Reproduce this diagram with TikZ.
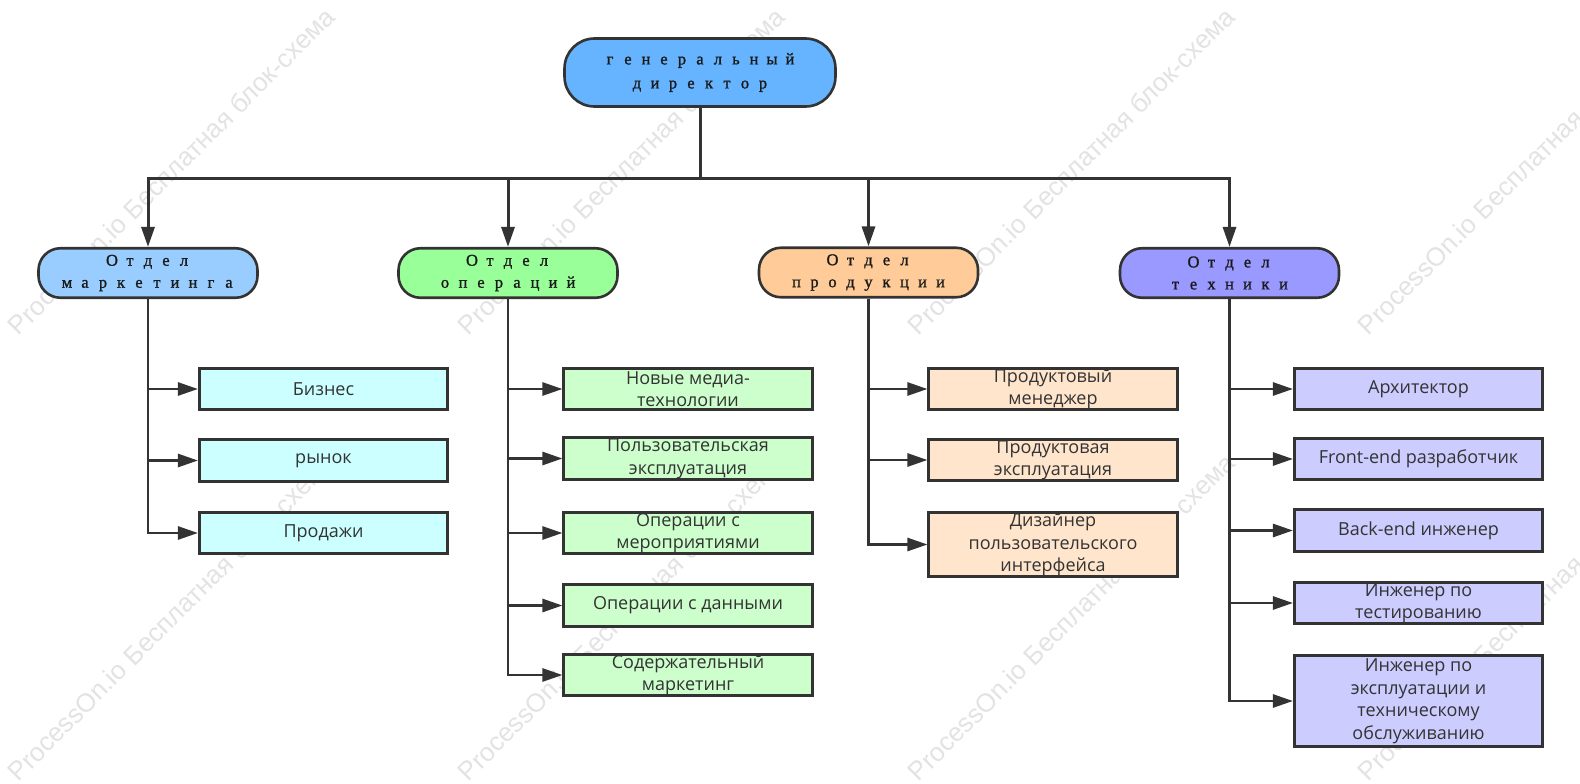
\documentclass[tikz,border=0pt]{standalone}
\usepackage{fontspec}
\setmainfont{Open Sans}
\newfontfamily\wmfont{Liberation Sans}
\newfontfamily\serifcell[FakeBold=1.2]{Liberation Serif}
\usetikzlibrary{arrows.meta}
\definecolor{lc}{HTML}{333333}
\definecolor{tc}{HTML}{333333}
\definecolor{topfill}{HTML}{66B3FF}
\definecolor{mkfill}{HTML}{99CCFF}
\definecolor{opfill}{HTML}{99FF99}
\definecolor{prfill}{HTML}{FFCC99}
\definecolor{tefill}{HTML}{9999FF}
\definecolor{mkc}{HTML}{CCFFFF}
\definecolor{opc}{HTML}{CCFFCC}
\definecolor{prc}{HTML}{FFE5CC}
\definecolor{tec}{HTML}{CCCCFF}
\definecolor{wm}{HTML}{E3E3E3}
\newcommand\cellsp[1]{\cellspaux#1\relax}
\def\cellspaux#1{\ifx#1\relax\else\makebox[18pt]{#1}\expandafter\cellspaux\fi}
\tikzset{
  topbox/.style={draw=lc, line width=2.6pt, rounded corners=30pt, fill=topfill,
    minimum width=271pt, minimum height=68pt, inner sep=0pt, align=center,
    font=\serifcell\fontsize{16.5}{24}\selectfont, text=black!90},
  dept/.style={draw=lc, line width=2.6pt, rounded corners=22pt,
    minimum width=219pt, minimum height=49.5pt, inner sep=0pt, align=center,
    font=\serifcell\fontsize{16.5}{22}\selectfont, text=black!90},
  child/.style={draw=lc, line width=2.6pt, minimum width=248.5pt,
    minimum height=41.5pt, inner sep=0pt, align=center,
    font=\fontsize{18}{22.5}\selectfont, text=tc},
  mainline/.style={draw=lc, line width=3pt},
  arrowline/.style={draw=lc, line width=3pt, -{Triangle[length=20pt,width=13pt]}},
  branch/.style={draw=lc, line width=2.6pt, -{Triangle[length=20pt,width=13pt]}},
  wmtext/.style={text=wm, font=\wmfont\fontsize{26}{26}\selectfont, rotate=45, inner sep=0pt}
}
\begin{document}
\begin{tikzpicture}[x=1pt,y=-1pt]
\useasboundingbox (0,0) rectangle (1580,784);
\fill[white] (0,0) rectangle (1580,784);
% watermark
\begin{scope}
\clip (0,0) rectangle (1580,784);
\foreach \i in {0,1,2,3} {
  \foreach \j in {0,1} {
    \node[wmtext] (wm\i\j) at (171+450*\i, 171+446*\j) {ProcessOn.io Бесплатная блок-схема};
  }
}
\end{scope}
% top
\node[topbox] (top) at (700,72.5) {\cellsp{генеральный}\\\cellsp{директор}};
% departments
\node[dept, fill=mkfill] (mk) at (148,273) {\cellsp{Отдел}\\\cellsp{маркетинга}};
\node[dept, fill=opfill] (op) at (508,273) {\cellsp{Отдел}\\\cellsp{операций}};
\node[dept, fill=prfill] (pr) at (868.5,272.5) {\cellsp{Отдел}\\\cellsp{продукции}};
\node[dept, fill=tefill] (te) at (1229.5,273) {\cellsp{Отдел}\\\cellsp{техники}};
% marketing children
\node[child, fill=mkc] (m1) at (323.5,389) {Бизнес};
\node[child, fill=mkc] (m2) at (323.5,460.5) {рынок};
\node[child, fill=mkc] (m3) at (323.5,533) {Продажи};
% operations children
\node[child, fill=opc] (o1) at (688,389) {Новые медиа-\\технологии};
\node[child, fill=opc] (o2) at (688,458.5) {Пользовательская\\эксплуатация};
\node[child, fill=opc] (o3) at (688,533) {Операции с\\мероприятиями};
\node[child, fill=opc] (o4) at (688,605.5) {Операции с данными};
\node[child, fill=opc] (o5) at (688,675) {Содержательный\\маркетинг};
% product children
\node[child, fill=prc] (p1) at (1053,389) {Продуктовый\\менеджер};
\node[child, fill=prc] (p2) at (1053,460) {Продуктовая\\эксплуатация};
\node[child, fill=prc, minimum height=64.5pt] (p3) at (1053,544.5) {Дизайнер\\пользовательского\\интерфейса};
% tech children
\node[child, fill=tec] (t1) at (1418.5,389) {Архитектор};
\node[child, fill=tec] (t2) at (1418.5,459) {Front-end разработчик};
\node[child, fill=tec] (t3) at (1418.5,530.5) {Back-end инженер};
\node[child, fill=tec] (t4) at (1418.5,603) {Инженер по\\тестированию};
\node[child, fill=tec, minimum height=91.5pt] (t5) at (1418.5,701) {Инженер по\\эксплуатации и\\техническому\\обслуживанию};
% connectors from top
\coordinate (j) at (700,178);
\draw[mainline] (top.south) -- (j);
\draw[arrowline] (j) -| (mk.north);
\draw[arrowline] (j) -| (op.north);
\draw[arrowline] (j) -| (pr.north);
\draw[arrowline] (j) -| (te.north);
% branches
\foreach \c in {m1,m2,m3} { \draw[branch] (mk.south) |- (\c.west); }
\foreach \c in {o1,o2,o3,o4,o5} { \draw[branch] (op.south) |- (\c.west); }
\foreach \c in {p1,p2,p3} { \draw[branch] (pr.south) |- (\c.west); }
\foreach \c in {t1,t2,t3,t4,t5} { \draw[branch] (te.south) |- (\c.west); }
\end{tikzpicture}
\end{document}
